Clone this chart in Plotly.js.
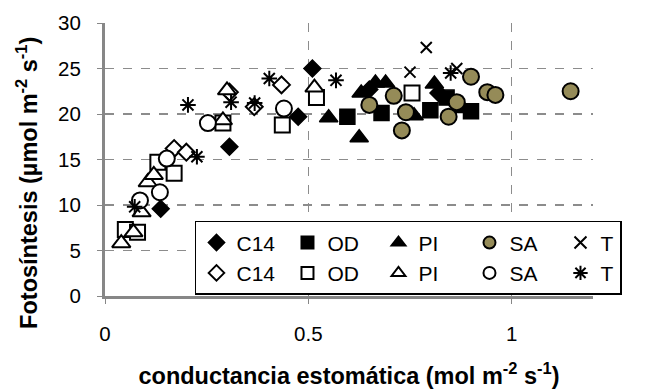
<!DOCTYPE html>
<html>
<head>
<meta charset="utf-8">
<script src="https://cdn.plot.ly/plotly-3.0.1.min.js"></script>
<style>html,body{margin:0;padding:0;background:#fff}#chart{width:647px;height:392px}</style>
</head>
<body>
<div id="chart"></div>
<script>
// Filled-symbol series
var c14X = [0.137, 0.306, 0.475, 0.51, 0.65, 0.82];
var c14Y = [9.6, 16.4, 19.7, 25.0, 22.7, 22.3];
var odX = [0.596, 0.68, 0.80, 0.84, 0.90];
var odY = [19.7, 20.1, 20.4, 21.8, 20.3];
var piX = [0.55, 0.625, 0.63, 0.665, 0.69, 0.76, 0.81, 0.88];
var piY = [19.6, 17.4, 22.3, 23.4, 23.4, 19.8, 23.3, 20.6];
var saX = [0.65, 0.71, 0.73, 0.74, 0.845, 0.865, 0.90, 0.94, 0.96, 1.145];
var saY = [21.0, 22.0, 18.2, 20.2, 19.7, 21.3, 24.1, 22.4, 22.1, 22.5];
var tX = [0.75, 0.79, 0.865];
var tY = [24.6, 27.3, 25.0];
// Open-symbol series
var c14oX = [0.17, 0.20, 0.306, 0.367, 0.434];
var c14oY = [16.2, 15.8, 22.4, 20.8, 23.2];
var odoX = [0.05, 0.08, 0.13, 0.17, 0.29, 0.436, 0.52, 0.755];
var odoY = [7.3, 7.0, 14.7, 13.5, 19.0, 18.8, 21.8, 22.3];
var pioX = [0.04, 0.07, 0.09, 0.105, 0.12, 0.29, 0.30, 0.515];
var pioY = [5.8, 7.0, 9.2, 12.5, 13.3, 19.3, 22.6, 22.9];
var saoX = [0.086, 0.135, 0.152, 0.253, 0.44];
var saoY = [10.5, 11.4, 15.1, 19.0, 20.6];
var toX = [0.073, 0.204, 0.226, 0.31, 0.368, 0.404, 0.568, 0.85];
var toY = [9.8, 21.0, 15.3, 21.3, 21.2, 23.9, 23.7, 24.5];

var xTickVals = [0, 0.5, 1];
var xTickText = ['0', '0.5', '1'];
var yTickVals = [0, 5, 10, 15, 20, 25, 30];

var olive = '#958b58';
function tr(name, x, y, symbol, size, fill, lw, lgw) {
  var t = {
    type: 'scatter', mode: 'markers', name: name, x: x, y: y,
    marker: {symbol: symbol, size: size, color: fill, line: {color: '#000', width: lw}},
    cliponaxis: false
  };
  if (lgw) t.legendwidth = lgw;
  return t;
}
var data = [
  tr('C14', c14X, c14Y, 'diamond', 13, '#000', 1.5),
  tr('OD', odX, odY, 'square', 15, '#000', 1.5),
  tr('PI', piX, piY, 'triangle-up', 16, '#000', 1.5),
  tr('SA', saX, saY, 'circle', 16, olive, 2),
  tr('T', tX, tY, 'x-thin-open', 11, '#000', 2, 15),
  tr('C14', c14oX, c14oY, 'diamond', 13, '#fff', 2),
  tr('OD', odoX, odoY, 'square', 15, '#fff', 2),
  tr('PI', pioX, pioY, 'triangle-up', 16, '#fff', 2),
  tr('SA', saoX, saoY, 'circle', 16, '#fff', 2),
  tr('T', toX, toY, 'asterisk-open', 13, '#000', 2, 15)
];

var font = 'Liberation Sans, Arial, sans-serif';
var layout = {
  width: 647, height: 392,
  margin: {l: 105, r: 54, t: 23, b: 96, autoexpand: false},
  paper_bgcolor: '#fff', plot_bgcolor: '#fff',
  font: {family: font, size: 18, color: '#000'},
  showlegend: true,
  legend: {
    orientation: 'h', x: 0.1844, y: 0.275, xanchor: 'left', yanchor: 'top',
    bgcolor: '#fff', bordercolor: '#000', borderwidth: 1.5,
    font: {family: font, size: 21, color: '#000'},
    entrywidth: 46, itemwidth: 30, traceorder: 'normal', itemsizing: 'constant'
  },
  xaxis: {
    range: [0, 1.2], tickvals: xTickVals, ticktext: xTickText, automargin: false,
    showline: true, linecolor: '#878787', linewidth: 3,
    showgrid: true, gridcolor: '#8c8c8c', griddash: 'dash', gridwidth: 1.5,
    zeroline: false, ticks: 'outside', ticklen: 5, tickcolor: '#878787', tickwidth: 1,
    tickfont: {size: 20.5}, ticklabelstandoff: 12,
    title: {text: '<b>conductancia estomática (mol m<sup>-2</sup> s<sup>-1</sup>)</b>', font: {size: 23.5}, standoff: 24}
  },
  yaxis: {
    range: [0, 30], tickvals: yTickVals, automargin: false,
    showline: true, linecolor: '#878787', linewidth: 3,
    showgrid: true, gridcolor: '#8c8c8c', griddash: 'dash', gridwidth: 1.5,
    zeroline: false, ticks: 'outside', ticklen: 5, tickcolor: '#878787', tickwidth: 1,
    tickfont: {size: 20.5}, ticklabelstandoff: 12
  },
  annotations: [{
    text: '<b>Fotosíntesis (µmol m<sup>-2</sup> s<sup>-1</sup>)</b>',
    xref: 'paper', yref: 'paper', x: -0.16, y: 0.414, xanchor: 'center', yanchor: 'middle',
    textangle: -90, showarrow: false, font: {family: font, size: 23.5, color: '#000'}
  }]
};
Plotly.newPlot('chart', data, layout, {displayModeBar: false, staticPlot: true});
</script>
</body>
</html>
